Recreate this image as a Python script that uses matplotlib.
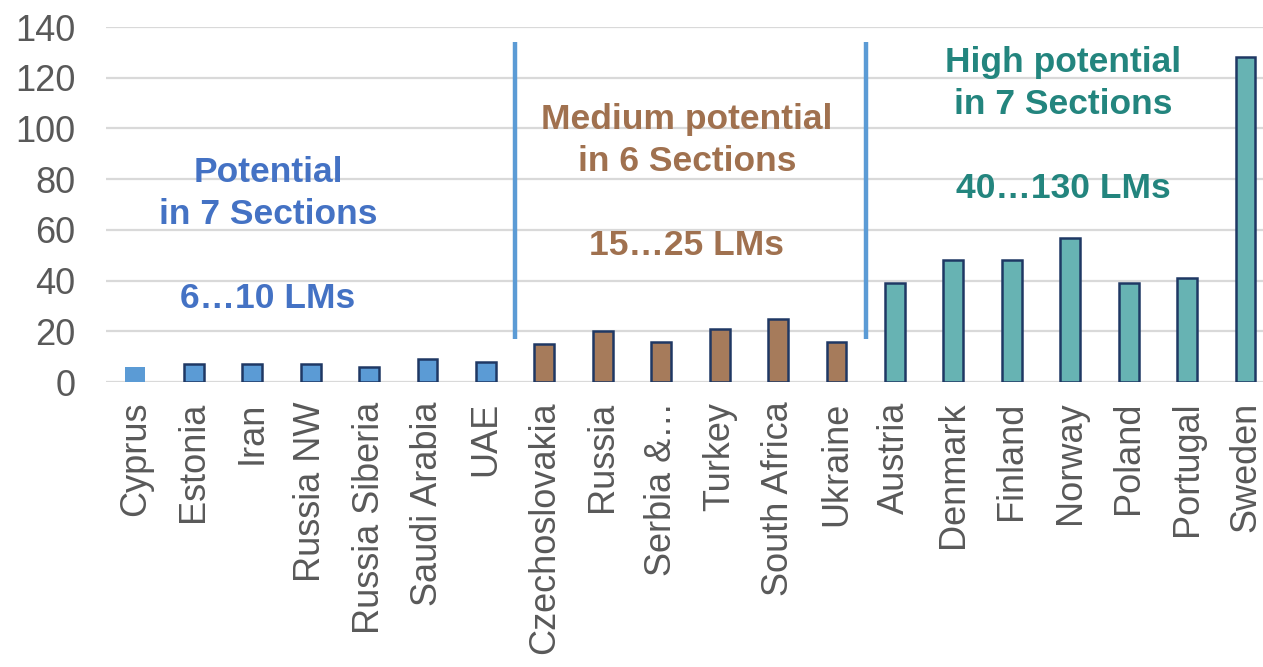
import matplotlib.pyplot as plt

plt.rcParams['font.family'] = ['Liberation Sans', 'DejaVu Sans']

countries = ['Cyprus', 'Estonia', 'Iran', 'Russia NW', 'Russia Siberia', 'Saudi Arabia', 'UAE',
             'Czechoslovakia', 'Russia', 'Serbia &…', 'Turkey', 'South Africa', 'Ukraine',
             'Austria', 'Denmark', 'Finland', 'Norway', 'Poland', 'Portugal', 'Sweden']
lms = [6, 7, 7, 7, 6, 9, 8,
       15, 20, 16, 21, 25, 16,
       39, 48, 48, 57, 39, 41, 128]
groups = ['low'] * 7 + ['medium'] * 6 + ['high'] * 7

bar_colors = {'low': '#5B9BD5', 'medium': '#A67B5B', 'high': '#67B3B3'}
text_colors = {'low': '#4472C4', 'medium': '#A0714F', 'high': '#23857E'}

fig = plt.figure(figsize=(12.63, 6.67), dpi=100)
ax = fig.add_axes([0.084, 0.427, 0.916, 0.5325])

x = list(range(len(countries)))
for i in x:
    g = groups[i]
    edge = 'none' if i == 0 else '#1F3864'
    ax.bar(i, lms[i], width=0.34, color=bar_colors[g], edgecolor=edge, linewidth=1.8, zorder=3)

# section separators
for sx in [6.5, 12.5]:
    ax.plot([sx, sx], [17, 134], color='#5B9BD5', linewidth=3.2, zorder=4, solid_capstyle='butt')

ax.text(2.27, 57.8, 'Potential\nin 7 Sections\n\n6…10 LMs', color=text_colors['low'],
        fontsize=25.5, fontweight='bold', ha='center', va='center', linespacing=1.34)
ax.text(9.44, 78.7, 'Medium potential\nin 6 Sections\n\n15…25 LMs', color=text_colors['medium'],
        fontsize=25.5, fontweight='bold', ha='center', va='center', linespacing=1.34)
ax.text(15.88, 101.1, 'High potential\nin 7 Sections\n\n40…130 LMs', color=text_colors['high'],
        fontsize=25.5, fontweight='bold', ha='center', va='center', linespacing=1.34)

ax.set_ylim(0, 140)
ax.set_xlim(-0.5, 19.3)
ax.set_yticks(range(0, 141, 20))
ax.set_xticks(x)
ax.set_xticklabels(countries, rotation=90)
ax.tick_params(axis='both', length=0, labelsize=26, labelcolor='#595959')
ax.tick_params(axis='y', pad=22)
ax.tick_params(axis='x', pad=14)
ax.grid(axis='y', color='#D9D9D9', linewidth=1.6, zorder=0)
ax.set_axisbelow(True)
for s in ax.spines.values():
    s.set_visible(False)

fig.savefig('out.png', dpi=100)
